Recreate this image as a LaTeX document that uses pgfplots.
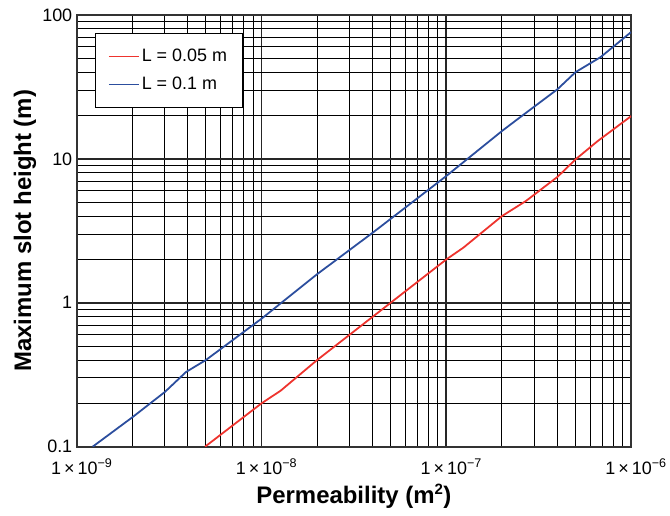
\documentclass[border=0pt]{standalone}
\usepackage{fontspec}
\setmainfont{Liberation Sans}
\usepackage{pgfplots}
\pgfplotsset{compat=1.18}
\definecolor{lred}{RGB}{238,52,46}
\definecolor{lblue}{RGB}{44,78,158}
\begin{document}
\begin{tikzpicture}
\begin{axis}[
  xmode=log, ymode=log,
  scale only axis, width=556pt, height=433pt,
  xmin=1e-9, xmax=1e-6, ymin=0.1, ymax=100,
  xtick={1e-9,1e-8,1e-7,1e-6},
  xticklabels={1\,×\,10\textsuperscript{−9},1\,×\,10\textsuperscript{−8},1\,×\,10\textsuperscript{−7},1\,×\,10\textsuperscript{−6}},
  minor xtick={2e-9,3e-9,4e-9,5e-9,6e-9,7e-9,8e-9,9e-9,
               2e-8,3e-8,4e-8,5e-8,6e-8,7e-8,8e-8,9e-8,
               2e-7,3e-7,4e-7,5e-7,6e-7,7e-7,8e-7,9e-7},
  ytick={0.1,1,10,100},
  yticklabels={0.1,1,10,100},
  minor ytick={0.2,0.3,0.4,0.5,0.6,0.7,0.8,0.9,
               2,3,4,5,6,7,8,9,
               20,30,40,50,60,70,80,90},
  grid=both,
  major grid style={black!85, line width=1.7pt},
  minor grid style={black, line width=1pt},
  major tick length=0pt, minor tick length=0pt,
  axis line style={black!80, line width=2pt},
  tick label style={font=\fontsize{18}{21}\selectfont},
  xticklabel style={yshift=-9pt, xshift=5pt},
  yticklabel style={xshift=-1pt},
  xlabel={Permeability (m\textsuperscript{\fontsize{15}{15}\selectfont 2})},
  ylabel={Maximum slot height (m)},
  every axis x label/.style={at={(axis description cs:0.5,-0.1155)}, anchor=center,
    font=\fontsize{24}{28}\selectfont\bfseries},
  every axis y label/.style={at={(axis description cs:-0.0935,0.5)}, rotate=90, anchor=center,
    font=\fontsize{24}{28}\selectfont\bfseries},
  legend style={at={(axis description cs:0.0324,0.958)}, anchor=north west,
    draw=black, line width=0.8pt, fill=white,
    font=\fontsize{18}{21}\selectfont,
    inner xsep=13pt, inner ysep=14pt, row sep=10pt},
  legend cell align=left,
  legend image code/.code={\draw[#1] (0pt,0pt) -- (30pt,0pt);},
]
% L = 0.05 m
\addplot[lred, line width=1.8pt] coordinates {
  (4.95e-9,0.1) (1e-8,0.2) (1.27e-8,0.245) (2e-8,0.4) (3e-8,0.6)
  (5e-8,1.0) (1e-7,2.0) (1.24e-7,2.42) (2e-7,4.0) (2.7e-7,5.1)
  (4e-7,7.5) (5e-7,9.9) (6.6e-7,13.3) (1e-6,19.8)
};
\addlegendentry{L = 0.05 m}
% L = 0.1 m
\addplot[lblue, line width=1.8pt] coordinates {
  (1.22e-9,0.1) (2e-9,0.16) (3e-9,0.24) (3.9e-9,0.33) (5e-9,0.4)
  (1e-8,0.775) (2e-8,1.58) (4e-8,3.07) (1e-7,7.6) (2e-7,15.6)
  (2.5e-7,19.4) (4e-7,30.5) (5e-7,40) (6.85e-7,51) (1e-6,76)
};
\addlegendentry{L = 0.1 m}
\end{axis}
\path (current axis.south west) ++(-77pt,-69pt) rectangle ++(670pt,517pt);
\end{tikzpicture}
\end{document}
